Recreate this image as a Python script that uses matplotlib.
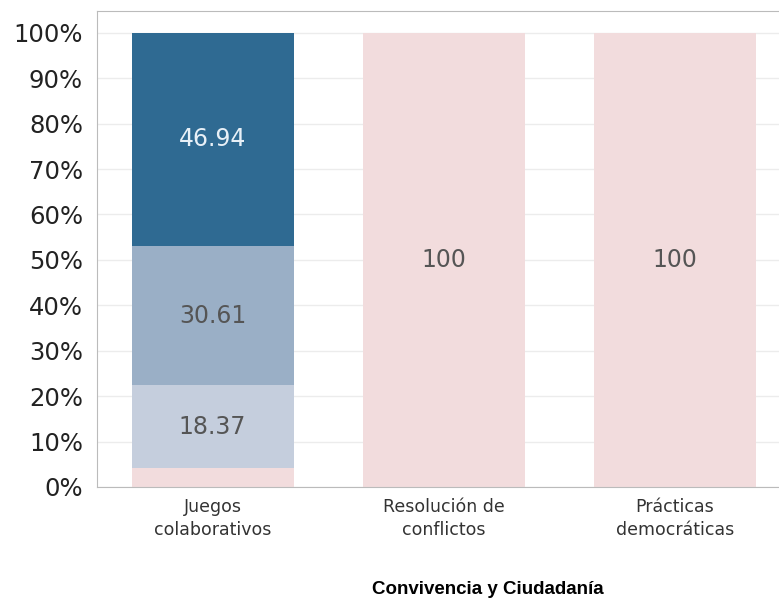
import matplotlib
matplotlib.use("Agg")
import matplotlib.pyplot as plt
import numpy as np

categories = ["Juegos\ncolaborativos", "Resolución de\nconflictos", "Prácticas\ndemocráticas"]
seg_pink = [4.08, 100, 100]
seg_light = [18.37, 0, 0]
seg_mid = [30.61, 0, 0]
seg_dark = [46.94, 0, 0]
title = "Convivencia y Ciudadanía"

series = [
    (seg_pink, "#f2dcdd", "#555555"),
    (seg_light, "#c5cedd", "#555555"),
    (seg_mid, "#9aafc6", "#555555"),
    (seg_dark, "#2f6a92", "#e8f0f7"),
]

fig = plt.figure(figsize=(7.79, 6.0), dpi=100)
ax = fig.add_axes([97/779, 113/600, (779-97)/779, (487-11)/600])

x = np.arange(len(categories))
bottom = np.zeros(len(categories))
for vals, color, tcolor in series:
    vals = np.array(vals, dtype=float)
    ax.bar(x, vals, 0.7, bottom=bottom, color=color, zorder=2)
    for xi, v, b in zip(x, vals, bottom):
        if v >= 10:
            ax.text(xi, b + v / 2, f"{v:g}", ha="center", va="center",
                    color=tcolor, fontsize=17, zorder=3)
    bottom += vals

ax.set_xlim(-0.5, 2.45)
ax.set_ylim(0, 104.8)
ax.set_yticks(np.arange(0, 101, 10))
ax.set_yticklabels([f"{v}%" for v in range(0, 101, 10)], fontsize=17.5, color="#222222")
ax.set_xticks(x)
ax.set_xticklabels(categories, fontsize=12.5, color="#333333", linespacing=1.35)
ax.tick_params(axis="both", length=0)
ax.tick_params(axis="y", pad=10)
ax.tick_params(axis="x", pad=8)
ax.grid(axis="y", color="#ececec", linewidth=1, zorder=0)
for s in ["left", "bottom", "top"]:
    ax.spines[s].set_color("#bbbbbb")
ax.spines["right"].set_visible(False)

fig.text(488/779, 1 - 590/600, title, ha="center", va="center",
         fontsize=13.5, fontweight="bold", family="Liberation Sans")

fig.savefig("out.png", dpi=100)
